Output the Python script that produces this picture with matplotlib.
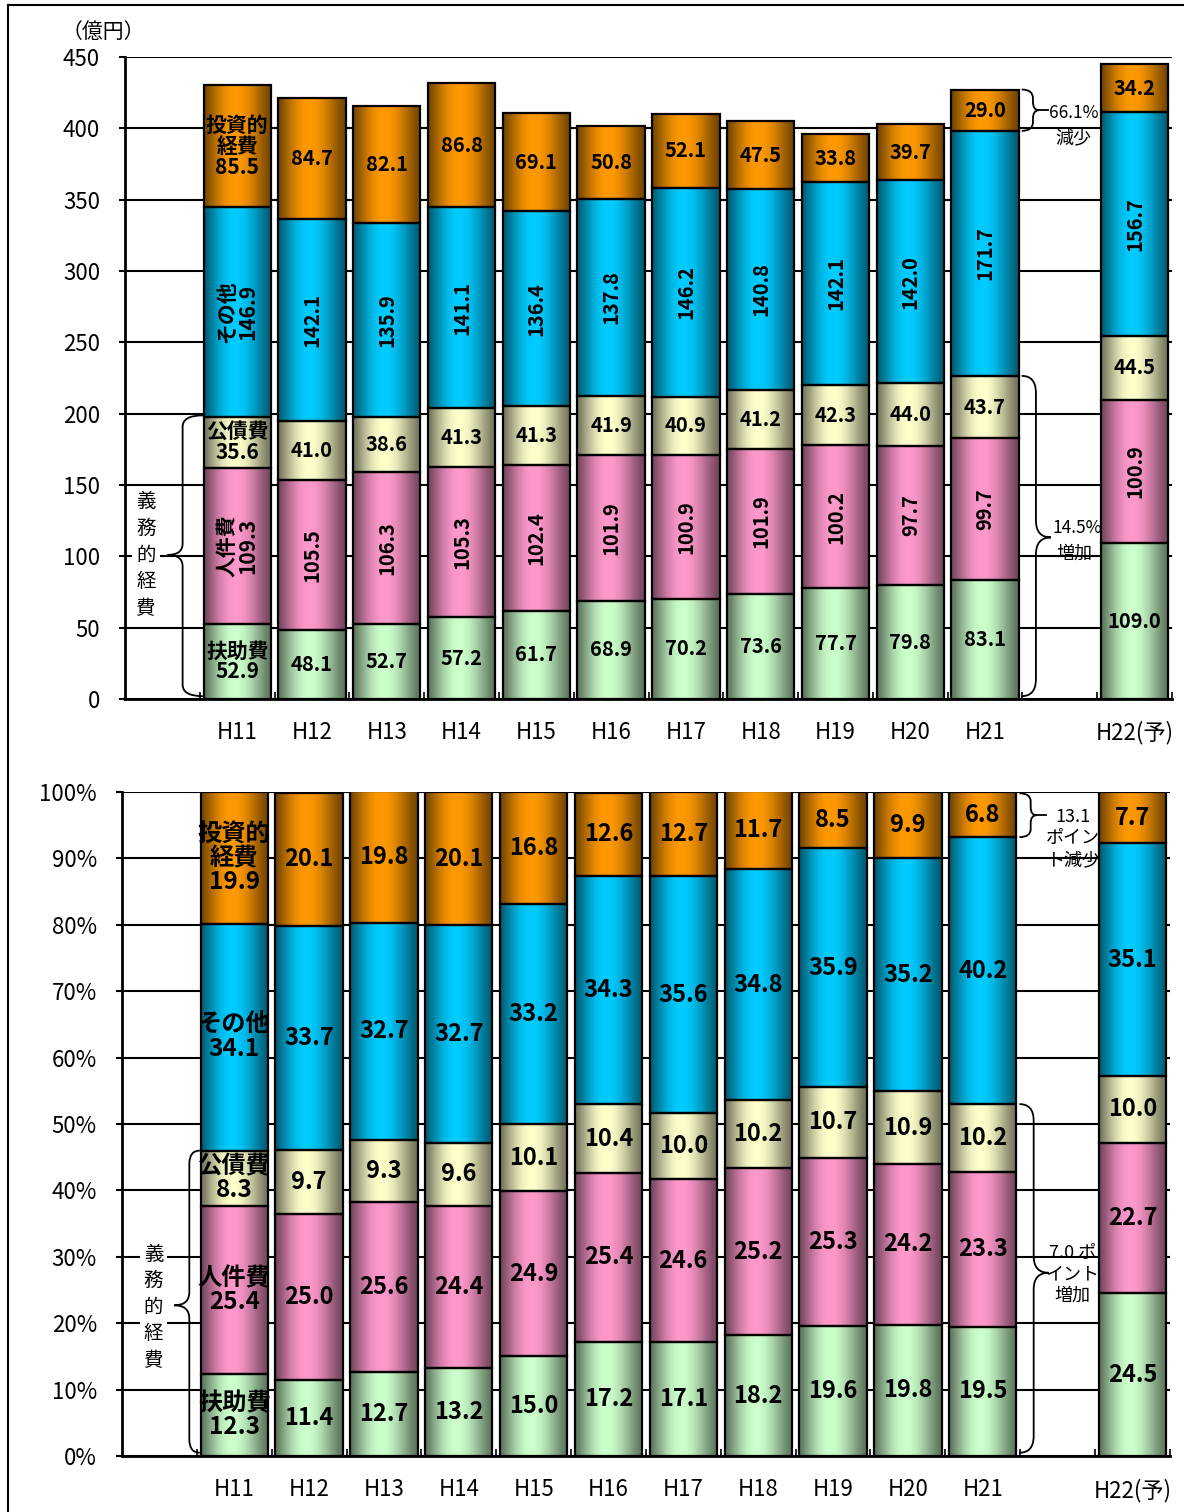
import numpy as np
import matplotlib
matplotlib.use("Agg")
import matplotlib.pyplot as plt
from matplotlib.path import Path
from matplotlib.patches import PathPatch
from matplotlib.lines import Line2D

plt.rcParams['font.family'] = ['Noto Sans CJK JP', 'DejaVu Sans']

# data
years = ['H11', 'H12', 'H13', 'H14', 'H15', 'H16', 'H17', 'H18', 'H19', 'H20', 'H21', 'H22(予)']
xpos = [0, 1, 2, 3, 4, 5, 6, 7, 8, 9, 10, 12]
names = ['扶助費', '人件費', '公債費', 'その他', '投資的\n経費']

# 億円
fujo = [52.9, 48.1, 52.7, 57.2, 61.7, 68.9, 70.2, 73.6, 77.7, 79.8, 83.1, 109.0]
jinken = [109.3, 105.5, 106.3, 105.3, 102.4, 101.9, 100.9, 101.9, 100.2, 97.7, 99.7, 100.9]
kosai = [35.6, 41.0, 38.6, 41.3, 41.3, 41.9, 40.9, 41.2, 42.3, 44.0, 43.7, 44.5]
sonota = [146.9, 142.1, 135.9, 141.1, 136.4, 137.8, 146.2, 140.8, 142.1, 142.0, 171.7, 156.7]
toshi = [85.5, 84.7, 82.1, 86.8, 69.1, 50.8, 52.1, 47.5, 33.8, 39.7, 29.0, 34.2]

# 構成比 (%)
fujo_p = [12.3, 11.4, 12.7, 13.2, 15.0, 17.2, 17.1, 18.2, 19.6, 19.8, 19.5, 24.5]
jinken_p = [25.4, 25.0, 25.6, 24.4, 24.9, 25.4, 24.6, 25.2, 25.3, 24.2, 23.3, 22.7]
kosai_p = [8.3, 9.7, 9.3, 9.6, 10.1, 10.4, 10.0, 10.2, 10.7, 10.9, 10.2, 10.0]
sonota_p = [34.1, 33.7, 32.7, 32.7, 33.2, 34.3, 35.6, 34.8, 35.9, 35.2, 40.2, 35.1]
toshi_p = [19.9, 20.1, 19.8, 20.1, 16.8, 12.6, 12.7, 11.7, 8.5, 9.9, 6.8, 7.7]

colors = ['#CCFFCC', '#FF99CC', '#FFFFCC', '#00CCFF', '#FF9900']

LBL_FONT = ['Liberation Sans Narrow', 'Noto Sans CJK JP', 'DejaVu Sans']


def gradient(color):
    # dark edges, bright middle (like the Excel fill)
    rgb = np.array(matplotlib.colors.to_rgb(color))
    t = np.linspace(0, 1, 64)
    f = 0.45 + 0.55 * np.sin(np.pi * t ** 0.9) ** 1.3
    return (f[:, None] * rgb[None, :])[None, :, :]


def brace(ax, x_end, x_mid, x_tip, y0, y1, ym, r):
    verts = [(x_end, y0), (x_mid, y0), (x_mid, y0 + r),
             (x_mid, ym - r), (x_mid, ym), (x_tip, ym),
             (x_mid, ym), (x_mid, ym + r),
             (x_mid, y1 - r), (x_mid, y1), (x_end, y1)]
    codes = [Path.MOVETO, Path.CURVE3, Path.CURVE3,
             Path.LINETO, Path.CURVE3, Path.CURVE3,
             Path.CURVE3, Path.CURVE3,
             Path.LINETO, Path.CURVE3, Path.CURVE3]
    ax.add_patch(PathPatch(Path(verts, codes), fill=False, lw=1.3,
                           edgecolor='black', zorder=4, clip_on=False))


def stacked(ax, series, ymax, step, rot_rows, fs_num, fs_name, pct):
    bottom = np.zeros(len(xpos))
    for i, vals in enumerate(series):
        vals = np.array(vals)
        bars = ax.bar(xpos, vals, width=0.9, bottom=bottom, facecolor='none',
                      edgecolor='black', linewidth=1.6, zorder=3)
        for rect in bars:
            x0, y0 = rect.get_x(), rect.get_y()
            ax.imshow(gradient(colors[i]), extent=[x0, x0 + rect.get_width(), y0, y0 + rect.get_height()],
                      aspect='auto', zorder=2.5, interpolation='bilinear')
        for j, (x, v) in enumerate(zip(xpos, vals)):
            rot = 90 if i in rot_rows else 0
            if j == 0:
                txt = names[i] + '\n' + f'{v:.1f}'
                ax.text(x, bottom[j] + v / 2, txt, ha='center', va='center', rotation=rot,
                        fontsize=fs_name, fontweight='bold', family=LBL_FONT,
                        linespacing=1.0, zorder=5)
            else:
                ax.text(x, bottom[j] + v / 2, f'{v:.1f}', ha='center', va='center', rotation=rot,
                        fontsize=fs_num, fontweight='bold', family=LBL_FONT, zorder=5)
        bottom += vals

    ax.set_xlim(-1.5, 12.5)
    ax.set_ylim(0, ymax)
    ax.set_yticks(np.arange(0, ymax + 1, step))
    if pct:
        ax.set_yticklabels([f'{int(v)}%' for v in np.arange(0, ymax + 1, step)])
    ax.yaxis.grid(True, color='black', linewidth=1.5, zorder=0.5)
    ax.set_axisbelow(True)
    ax.set_xticks(np.arange(-0.5, 12.6, 1.0))
    ax.set_xticklabels([])
    ax.tick_params(axis='x', which='major', direction='in', length=5, width=1.2)
    ax.set_xticks(xpos, minor=True)
    ax.set_xticklabels(years, minor=True)
    ax.tick_params(axis='x', which='minor', length=0, pad=16, labelsize=16)
    ax.tick_params(axis='y', direction='out', length=4, width=1.5, pad=14, labelsize=16)
    for s in ['top', 'right']:
        ax.spines[s].set_visible(False)
    for s in ['left', 'bottom']:
        ax.spines[s].set_linewidth(2)


fig = plt.figure(figsize=(11.84, 15.12), dpi=100)

# 金額
ax1 = fig.add_axes([0.1056, 0.5377, 0.8843, 0.4246])
stacked(ax1, [fujo, jinken, kosai, sonota, toshi], 450, 50, (1, 3), 14.5, 15, False)
fig.text(0.052, 0.979, '（億円）', fontsize=15, ha='left', va='center')

c = np.cumsum([fujo, jinken, kosai, sonota, toshi], axis=0)
ax1.text(-1.22, 101, '義\n務\n的\n経\n費', ha='center', va='center', fontsize=14,
         linespacing=1.35, zorder=1.5, bbox=dict(facecolor='white', edgecolor='none', pad=3))
brace(ax1, -0.46, -0.73, -0.93, 2, c[2][0] + 1, 101, 8)
brace(ax1, 10.49, 10.64, 10.72, c[3][10], c[4][10], (c[3][10] + c[4][10]) / 2, 6)
ax1.plot([10.72, 10.84], [(c[3][10] + c[4][10]) / 2] * 2, color='black', lw=1.3, zorder=4)
ax1.text(10.85, 411, '66.1%', ha='left', va='center', fontsize=12.5, zorder=1)
ax1.text(11.18, 393, '減少', ha='center', va='center', fontsize=13, zorder=1)
brace(ax1, 10.49, 10.68, 10.88, 2, c[2][10], c[2][10] / 2, 12)
ax1.text(10.9, 120, '14.5%', ha='left', va='center', fontsize=12.5, zorder=1)
ax1.text(11.2, 102, '増加', ha='center', va='center', fontsize=13, zorder=1)

# 構成比
ax2 = fig.add_axes([0.1030, 0.0370, 0.8851, 0.4392])
stacked(ax2, [fujo_p, jinken_p, kosai_p, sonota_p, toshi_p], 100, 10, (), 17, 17.5, True)

cp = np.cumsum([fujo_p, jinken_p, kosai_p, sonota_p, toshi_p], axis=0)
ax2.text(-1.08, 22.4, '義\n務\n的\n経\n費', ha='center', va='center', fontsize=14,
         linespacing=1.35, zorder=1.5, bbox=dict(facecolor='white', edgecolor='none', pad=3))
brace(ax2, -0.46, -0.6, -0.8, 0.5, cp[2][0], 22.7, 2)
brace(ax2, 10.49, 10.64, 10.72, cp[3][10], 99.8, 96.5, 1.2)
ax2.plot([10.72, 10.84], [96.5, 96.5], color='black', lw=1.3, zorder=4)
ax2.text(11.2, 97.6, '13.1\nポイン\nト減少', ha='center', va='top', fontsize=13,
         linespacing=1.25, zorder=1)
ax2.text(11.2, 32.0, '7.0 ポ\nイント\n増加', ha='center', va='top', fontsize=13,
         linespacing=1.25, zorder=1)
brace(ax2, 10.49, 10.68, 10.88, 0.5, cp[2][10], 27.6, 2.5)

# 外枠
fig.add_artist(Line2D([8 / 1184, 1], [1 - 5 / 1512] * 2, color='black', lw=1.5))
fig.add_artist(Line2D([8 / 1184] * 2, [0, 1 - 5 / 1512], color='black', lw=1.5))

fig.savefig('out.png', dpi=100)
